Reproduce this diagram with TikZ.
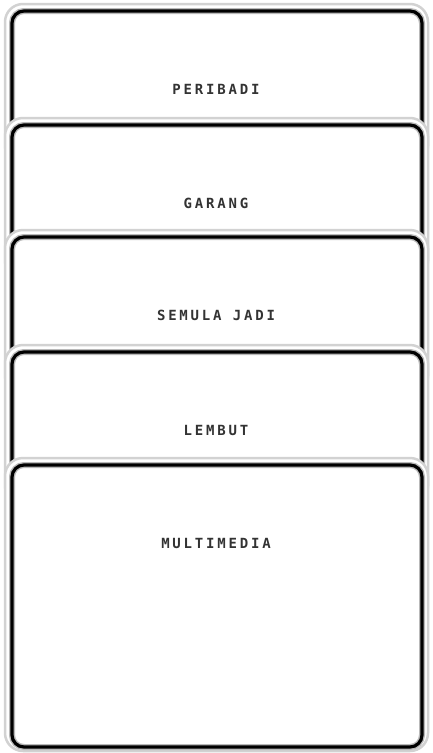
\documentclass[tikz,border=0pt]{standalone}
\usepackage{fontspec}
\newfontfamily\panelfont[LetterSpace=20]{DejaVu Sans Mono Bold}
\usetikzlibrary{positioning}
\tikzset{
  rim/.style={draw=gray!35, line width=2.5pt, rounded corners=18pt, fill=white},
  bevel/.style={draw=gray!55, line width=6pt, rounded corners=12pt},
  panel/.style={draw=black, line width=3.2pt, rounded corners=12pt},
  tag/.style={font=\panelfont\fontsize{14}{16}\selectfont, text=black!80, inner sep=0pt}
}
\begin{document}
\begin{tikzpicture}[x=1pt,y=-1pt]
  \useasboundingbox (0,0) rectangle (432,753);
  % stacked panels, each one hides the lower edge of the one above
  \foreach \ytop/\ybot/\lbl/\txt in {11/160/peribadi/PERIBADI, 125/275/garang/GARANG,
      237/390/semula/SEMULA JADI, 352/500/lembut/LEMBUT, 465/747/multimedia/MULTIMEDIA} {
    \draw[rim] (5,\ytop-7) rectangle (428,\ybot+4);
    \draw[bevel] (12,\ytop) rectangle (422,\ybot);
    \draw[panel] (12,\ytop) rectangle (422,\ybot);
    \node[tag] (\lbl) at (216,\ytop+78) {\txt};
  }
\end{tikzpicture}
\end{document}
